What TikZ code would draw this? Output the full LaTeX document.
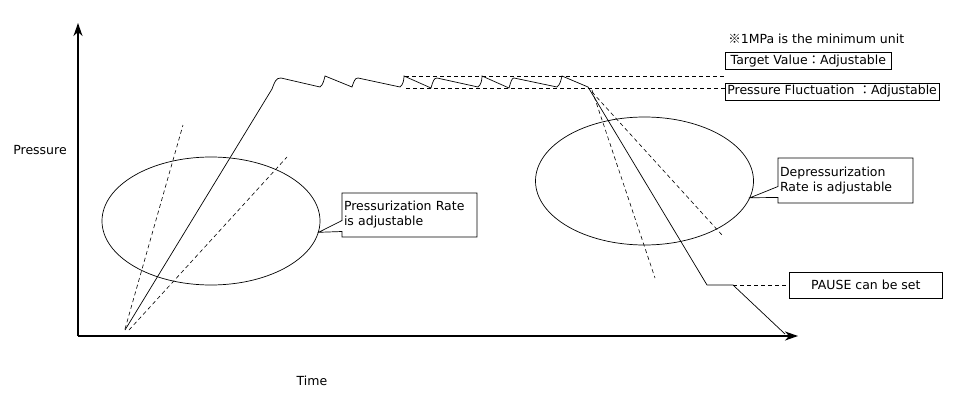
\documentclass[tikz,border=0pt]{standalone}
\usepackage{fontspec}
\setmainfont{DejaVu Sans}
\newfontfamily\cjk{Noto Sans CJK JP}
\usetikzlibrary{arrows.meta,shapes.geometric,shapes.callouts}

\begin{document}
\begin{tikzpicture}[x=1pt, y=-1pt, line width=0.7pt,
    font=\fontsize{12.5}{15}\selectfont,
    axis/.style={line width=1.2pt, -{Stealth[length=13pt, width=9pt, inset=4pt]}},
    guide/.style={line width=0.6pt, dash pattern=on 4pt off 3pt},
    zone/.style={draw, ellipse, inner sep=0pt, minimum width=218pt, minimum height=128pt},
    note/.style={draw, rectangle, anchor=west, inner sep=2pt, align=left},
    bubble/.style={draw, rectangle callout, inner sep=2pt, align=left, callout pointer width=11pt}]
    \useasboundingbox (0,0) rectangle (960,396);

    % Axes and their labels
    \coordinate (origin) at (78,336);
    \draw[axis] (origin) -- (78,23);
    \draw[axis] (origin) -- (798,336);
    \node (ylabel) at (40,150) {Pressure};
    \node (xlabel) at (312,381) {Time};

    % Pressure curve: ramp up, hold with fluctuation, ramp down with pause
    \draw (125,330) -- (272,89)
        .. controls (275,81) and (276,78) .. (281,78) -- (320,87)
        .. controls (323,85) and (324,80) .. (325,76) -- (352,87)
        .. controls (354,81) and (355,78) .. (358,78) -- (400,87)
        .. controls (403,85) and (404,80) .. (404,76) -- (431,88)
        .. controls (433,81) and (434,78) .. (437,78) -- (478,87)
        .. controls (481,85) and (482,80) .. (482,76) -- (509,88)
        .. controls (511,81) and (512,78) .. (514,78) -- (557,87)
        .. controls (560,85) and (561,80) .. (562,76) -- (588,87)
        -- (707,285) -- (733,285) -- (785,334);

    % Alternative rates (dashed)
    \draw[guide] (125,329) -- (183,125);
    \draw[guide] (129,330) -- (287,157);
    \draw[guide] (592,90) -- (655,278);
    \draw[guide] (592,92) -- (722,235);

    % Zones of adjustable rate
    \node[zone] (presszone) at (211,221) {};
    \node[zone] (depresszone) at (644.5,181) {};

    % Settings boxes
    \node[note, minimum width=166pt, minimum height=17pt] (target) at (725,61) {Target Value{\cjk ：}Adjustable};
    \node[note, minimum width=207pt, minimum height=17pt] (fluct) at (725,91.5) {Pressure Fluctuation {\cjk ：}Adjustable};
    \node[note, minimum width=153pt, minimum height=26pt] (pause) at (789,285) {PAUSE can be set};
    \node[anchor=west, inner sep=0pt] (unit) at (728,39) {{\cjk ※}1MPa is the minimum unit};

    \node[bubble, text width=131pt, minimum height=44pt,
        callout absolute pointer={(presszone.-6)}] (pressrate) at (409.5,215) {Pressurization Rate\\is adjustable};
    \node[bubble, text width=131pt, minimum height=45pt,
        callout absolute pointer={(depresszone.-9)}] (depressrate) at (845.5,180.5) {Depressurization\\Rate is adjustable};

    % Leaders to the boxes
    \coordinate (top) at (405,76);
    \coordinate (low) at (406,88);
    \coordinate (resume) at (733,285);
    \draw[guide] (top) -- (top -| target.west);
    \draw[guide] (low) -- (low -| fluct.west);
    \draw[guide] (resume) -- (pause.west);
\end{tikzpicture}
\end{document}
